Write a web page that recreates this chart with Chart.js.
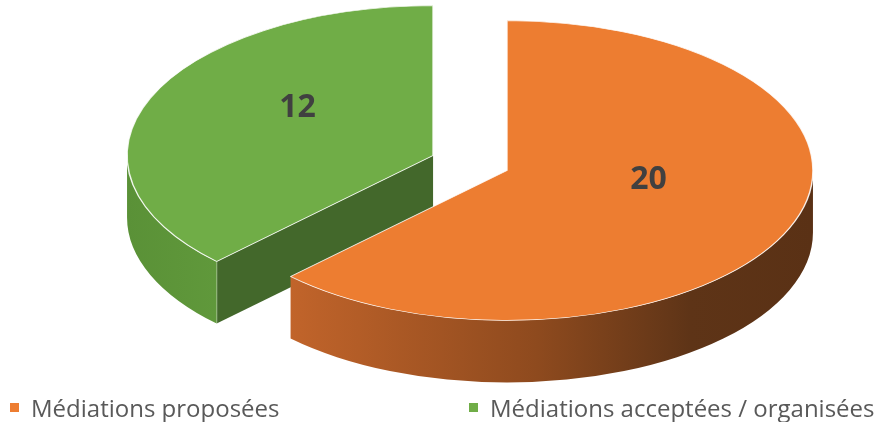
<!DOCTYPE html>
<html>
<head>
<meta charset="utf-8">
<script src="https://cdn.jsdelivr.net/npm/chart.js@4.4.1/dist/chart.umd.min.js"></script>
<style>
  html, body { margin: 0; padding: 0; background: #fff; }
  #wrap { width: 885px; height: 422px; position: relative; }
</style>
</head>
<body>
<div id="wrap"><canvas id="pie"></canvas></div>
<script>
// --- data ---
const categories = ['Médiations proposées', 'Médiations acceptées / organisées'];
const values = [20, 12];

// --- look ---
const topColors = ['#ED7D31', '#70AD47'];
const cutColors = ['#6A3818', '#43682B'];
const sideStops = [
  [[0, '#D06E30'], [0.13, '#C3652B'], [0.55, '#8E4A1E'], [0.8, '#5E3417'], [1, '#5A3115']],
  [[0, '#5A9137'], [0.3, '#66A03F'], [1, '#6BA843']]
];

// fake 3D view: where the pie centre lands, how flat, how thick, how far slices pull out
const VIEW = { cx: 470, cy: 163, tilt: 0.49, depth: 62, explode: 40, radius: 306 };

function sliceGeom(el) {
  const mid = (el.startAngle + el.endAngle) / 2;
  return {
    el,
    mid,
    sx: VIEW.cx + Math.cos(mid) * VIEW.explode,
    sy: VIEW.cy + Math.sin(mid) * VIEW.explode * VIEW.tilt
  };
}

function drawSides(ctx, g, i) {
  const el = g.el;
  const R = el.outerRadius;
  const ry = R * VIEW.tilt;
  const D = VIEW.depth;
  const start = el.startAngle, end = el.endAngle;

  // radial cut faces, only those facing the viewer
  [[start, start - Math.PI / 2], [end, end + Math.PI / 2]].forEach(([a, n]) => {
    if (Math.sin(n) <= 0.02) return;
    const px = g.sx + Math.cos(a) * R, py = g.sy + Math.sin(a) * ry;
    ctx.beginPath();
    ctx.moveTo(g.sx, g.sy);
    ctx.lineTo(px, py);
    ctx.lineTo(px, py + D);
    ctx.lineTo(g.sx, g.sy + D);
    ctx.closePath();
    ctx.fillStyle = cutColors[i];
    ctx.fill();
    ctx.beginPath();
    ctx.moveTo(px, py);
    ctx.lineTo(px, py + D);
    ctx.strokeStyle = 'rgba(255,255,255,0.8)';
    ctx.lineWidth = 1;
    ctx.stroke();
  });

  // curved outer wall, front half only
  for (let k = -1; k <= 1; k++) {
    const lo = Math.max(start, 2 * Math.PI * k);
    const hi = Math.min(end, Math.PI + 2 * Math.PI * k);
    if (hi <= lo) continue;
    const grad = ctx.createLinearGradient(g.sx - R, 0, g.sx + R, 0);
    sideStops[i].forEach(([p, c]) => grad.addColorStop(p, c));
    ctx.beginPath();
    ctx.ellipse(g.sx, g.sy, R, ry, 0, lo, hi, false);
    ctx.ellipse(g.sx, g.sy + D, R, ry, 0, hi, lo, true);
    ctx.closePath();
    ctx.fillStyle = grad;
    ctx.fill();
  }
}

const pie3d = {
  id: 'pie3d',
  beforeDatasetsDraw(chart) {
    const ctx = chart.ctx;
    const meta = chart.getDatasetMeta(0);
    const slices = meta.data.map((el, i) => ({ g: sliceGeom(el), i }))
      .sort((a, b) => a.g.sy - b.g.sy);

    slices.forEach(({ g, i }) => {
      ctx.save();
      drawSides(ctx, g, i);
      ctx.restore();

      // top face: the library's own arc, squashed into place
      ctx.save();
      ctx.translate(g.sx, g.sy);
      ctx.scale(1, VIEW.tilt);
      ctx.translate(-g.el.x, -g.el.y);
      g.el.draw(ctx);
      ctx.restore();
    });
    return false;
  },
  afterDraw(chart) {
    const ctx = chart.ctx;
    const meta = chart.getDatasetMeta(0);

    // value labels
    ctx.save();
    ctx.font = 'bold 32px "Open Sans", sans-serif';
    ctx.fillStyle = '#404040';
    ctx.textAlign = 'center';
    ctx.textBaseline = 'middle';
    meta.data.forEach((el, i) => {
      const g = sliceGeom(el);
      const r = el.outerRadius * 0.49;
      const x = g.sx + Math.cos(g.mid) * r + 3;
      const y = g.sy + Math.sin(g.mid) * r * VIEW.tilt - 19;
      ctx.fillText(String(chart.data.datasets[0].data[i]), x, y);
    });
    ctx.restore();

    // legend
    ctx.save();
    ctx.font = '24px "Open Sans", sans-serif';
    ctx.textBaseline = 'alphabetic';
    ctx.textAlign = 'left';
    const legendX = [10, 469];
    chart.data.labels.forEach((label, i) => {
      ctx.fillStyle = topColors[i];
      ctx.fillRect(legendX[i], 403, 9, 9);
      ctx.fillStyle = '#595959';
      ctx.fillText(label, legendX[i] + 21, 417);
    });
    ctx.restore();
  }
};

new Chart(document.getElementById('pie'), {
  type: 'pie',
  data: {
    labels: categories,
    datasets: [{
      data: values,
      backgroundColor: topColors,
      borderColor: 'rgba(255,255,255,0.85)',
      borderWidth: 1.5,
      offset: 0
    }]
  },
  options: {
    responsive: true,
    maintainAspectRatio: false,
    animation: false,
    events: [],
    radius: VIEW.radius,
    plugins: {
      legend: { display: false },
      tooltip: { enabled: false }
    }
  },
  plugins: [pie3d]
});
</script>
</body>
</html>
